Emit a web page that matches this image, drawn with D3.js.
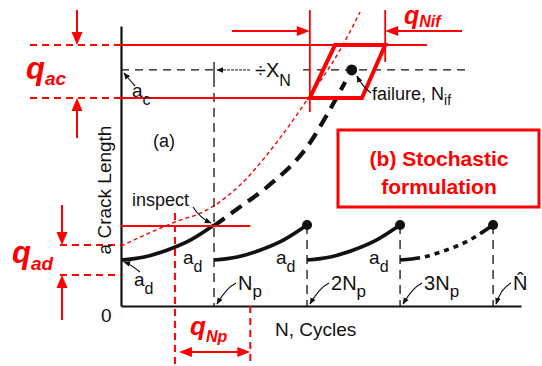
<!DOCTYPE html>
<html><head><meta charset="utf-8">
<script src="https://cdn.jsdelivr.net/npm/d3@7"></script>
<style>body{margin:0;background:#fff}svg{display:block}text{font-family:"Liberation Sans",Arial,sans-serif}</style>
</head><body><svg id="c" width="542" height="366"></svg>
<script>
// ---------------- data ----------------
const segmentStarts = [0, 1, 2, 3];                 // inspection intervals (units of Np)
const growthOffsets = [0, 0.25, 0.5, 0.75, 1.0];    // cycles within one interval
const growthValues  = [1.64, 1.75, 2.0, 2.36, 2.89];// crack length a
const tickValues = [1, 2, 3, 4];
const tickMain = ["N", "2N", "3N", "N\u0302"];
const tickSub  = ["p", "p", "p", ""];
const stochN = [1.0, 1.28, 1.57, 2.03, 2.225, 2.41];
const stochA = [2.86, 3.54, 4.25, 5.82, 6.89, 8.0];
const boundN = [0, 0.58, 0.925, 1.28, 1.677, 2.0, 2.354, 2.57];
const boundA = [2.14, 3.0, 3.43, 4.32, 5.86, 7.36, 9.14, 10.5];
const aD = 1.64, aC = 8.43, aInspect = 2.86, aPeak = 2.89;
const qAcBand = [7.43, 9.32];
const qAdBand = [1.11, 2.18];
const qNpBand = [0.58, 1.39];
const qNifBand = [2.03, 2.84];
const failureN = 2.48;
const parallelogram = [[2.03, 7.43], [2.30, 9.32], [2.84, 9.32], [2.59, 7.43]];
const topRedEnd = 3.29, acLineEnd = 3.75;

// ---------------- setup ----------------
const svg = d3.select("#c");
const x = d3.scaleLinear().domain([0, 4.3]).range([121, 521]);
const y = d3.scaleLinear().domain([0, 10]).range([306, 26]);
const RED = "#ff0000", BLK = "#111";
const line = d3.line().x(d => x(d[0])).y(d => y(d[1])).curve(d3.curveMonotoneX);

const defs = svg.append("defs");
defs.append("marker").attr("id", "ah").attr("viewBox", "0 0 10 10")
  .attr("refX", 9).attr("refY", 5).attr("markerWidth", 7).attr("markerHeight", 7)
  .attr("markerUnits", "userSpaceOnUse").attr("orient", "auto")
  .append("path").attr("d", "M0,1L10,5L0,9Z").attr("fill", BLK);

function head(tx, ty, ang, len = 13, w = 11) {
  const c = Math.cos(ang), s = Math.sin(ang);
  const bx = tx - c * len, by = ty - s * len;
  const px = -s * w / 2, py = c * w / 2;
  svg.append("path").attr("d", `M${tx},${ty}L${bx + px},${by + py}L${bx - px},${by - py}Z`).attr("fill", RED);
}
function seg(x1, y1, x2, y2, col, w, dash) {
  const l = svg.append("line").attr("x1", x1).attr("y1", y1).attr("x2", x2).attr("y2", y2)
    .attr("stroke", col).attr("stroke-width", w);
  if (dash) l.attr("stroke-dasharray", dash);
  return l;
}
function curvedArrow(x1, y1, cx, cy, x2, y2) {
  svg.append("path").attr("d", `M${x1},${y1}Q${cx},${cy} ${x2},${y2}`)
    .attr("fill", "none").attr("stroke", BLK).attr("stroke-width", 1.2).attr("marker-end", "url(#ah)");
}

// ---------------- axes ----------------
svg.append("g").attr("transform", `translate(0,${y(0)})`)
  .call(d3.axisBottom(x).tickValues([]).tickSizeOuter(0))
  .call(g => g.select(".domain").attr("stroke", BLK).attr("stroke-width", 2));
svg.append("g").attr("transform", `translate(${x(0)},0)`)
  .call(d3.axisLeft(y).tickValues([]).tickSizeOuter(0))
  .call(g => g.select(".domain").attr("stroke", BLK).attr("stroke-width", 2.2));

// ---------------- red deterministic bound (thin dashed) ----------------
svg.append("path").attr("d", line(d3.zip(boundN, boundA))).attr("fill", "none")
  .attr("stroke", RED).attr("stroke-width", 1.4).attr("stroke-dasharray", "4,3");

// ---------------- black dashed reference lines ----------------
seg(x(0), y(aC), x(1), y(aC), BLK, 1.3, "8,6");
seg(x(2.0) - 4, y(aC), x(acLineEnd), y(aC), BLK, 1.3, "8,6");
seg(x(1), y(aC) - 8, x(1), y(aC) + 8, BLK, 1.3);
seg(x(1), y(aC) + 8, x(1), y(0), BLK, 1.3, "9,6");
seg(x(1) + 36, y(aC), x(1) + 3, y(aC), BLK, 1).attr("stroke-dasharray", "3,1").attr("marker-end", "url(#ah)");
tickValues.slice(1).forEach(t => seg(x(t), y(aPeak), x(t), y(0), BLK, 1.3, "9,6"));

// ---------------- crack growth segments ----------------
segmentStarts.forEach((s, i) => {
  const pts = growthOffsets.map((o, j) => [s + o, growthValues[j]]);
  const p = svg.append("path").attr("d", line(pts)).attr("fill", "none")
    .attr("stroke", BLK).attr("stroke-width", 3.6);
  if (i === 3) {
    const L = p.node().getTotalLength();
    const arr = [0.2 * L];
    let pos = 0.2 * L;
    while (pos < 0.74 * L) { arr.push(5, 5); pos += 10; }
    arr.push(5, L);
    p.attr("stroke-dasharray", arr.join(","));
  }
});
// stochastic continuation (thick dashed)
svg.append("path").attr("d", line(d3.zip(stochN, stochA))).attr("fill", "none")
  .attr("stroke", BLK).attr("stroke-width", 4.2).attr("stroke-dasharray", "13,8");

// end dots
tickValues.slice(1).forEach(t => svg.append("circle").attr("cx", x(t)).attr("cy", y(aPeak)).attr("r", 5).attr("fill", BLK));
svg.append("circle").attr("cx", x(failureN)).attr("cy", y(aC)).attr("r", 5.5).attr("fill", BLK);

// ---------------- red scatter bands ----------------
// q_ac
seg(x(0), y(qAcBand[1]), x(topRedEnd), y(qAcBand[1]), RED, 2);
seg(x(0), y(qAcBand[0]), x(qNifBand[0]), y(qAcBand[0]), RED, 2);
seg(30, y(qAcBand[1]), x(0), y(qAcBand[1]), RED, 2, "7,5");
seg(30, y(qAcBand[0]), x(0), y(qAcBand[0]), RED, 2, "7,5");
seg(77, 10, 77, y(qAcBand[1]) - 6, RED, 2);
head(77, y(qAcBand[1]), Math.PI / 2);
seg(77, 138, 77, y(qAcBand[0]) + 6, RED, 2);
head(77, y(qAcBand[0]), -Math.PI / 2);

// q_Nif
seg(x(qNifBand[0]), 10, x(qNifBand[0]), 112, RED, 1.8);
seg(x(qNifBand[1]), 10, x(qNifBand[1]), 62, RED, 1.8);
seg(232, 31, x(qNifBand[0]) - 6, 31, RED, 1.8);
head(x(qNifBand[0]), 31, 0, 13, 10);
seg(462, 31, x(qNifBand[1]) + 6, 31, RED, 1.8);
head(x(qNifBand[1]), 31, Math.PI, 13, 10);
svg.append("path").attr("d", d3.line().x(d => x(d[0])).y(d => y(d[1]))(parallelogram) + "Z")
  .attr("fill", "none").attr("stroke", RED).attr("stroke-width", 4).attr("stroke-linejoin", "miter");

// inspect line
seg(x(0), y(aInspect), x(qNpBand[1]), y(aInspect), RED, 2);

// q_ad
seg(60, y(qAdBand[1]), x(0), y(qAdBand[1]), RED, 2, "7,5");
seg(60, y(qAdBand[0]), x(0), y(qAdBand[0]), RED, 2, "7,5");
seg(62, 205, 62, y(qAdBand[1]) - 6, RED, 2);
head(62, y(qAdBand[1]), Math.PI / 2);
seg(62, 320, 62, y(qAdBand[0]) + 6, RED, 2);
head(62, y(qAdBand[0]), -Math.PI / 2);

// q_Np
seg(x(qNpBand[0]), 213, x(qNpBand[0]), 366, RED, 2, "7,5");
seg(x(qNpBand[1]), y(0), x(qNpBand[1]), 366, RED, 2, "7,5");
seg(x(qNpBand[0]) + 10, 352, x(qNpBand[1]) - 8, 352, RED, 2);
head(x(qNpBand[0]) + 4, 352, Math.PI, 13, 10);
head(x(qNpBand[1]), 352, 0, 13, 10);

// red labels
function qLabel(tx, ty, main, sub, fs, sfs, dy) {
  const t = svg.append("text").attr("x", tx).attr("y", ty).attr("fill", RED)
    .attr("font-weight", "bold").attr("font-style", "italic").attr("font-size", fs).text(main);
  t.append("tspan").attr("font-size", sfs).attr("dy", dy).text(sub);
}
qLabel(26, 79, "q", "ac", 31, 19, 6);
qLabel(12, 263, "q", "ad", 31, 19, 7);
qLabel(404, 24, "q", "Nif", 25, 16, 3);
qLabel(190, 335, "q", "Np", 26, 16, 7);

// stochastic box
svg.append("rect").attr("x", 338).attr("y", 130).attr("width", 201).attr("height", 77)
  .attr("fill", "#fff").attr("stroke", RED).attr("stroke-width", 3);
svg.append("text").attr("x", 439).attr("y", 166).attr("text-anchor", "middle").attr("fill", RED)
  .attr("font-weight", "bold").attr("font-size", 21).text("(b) Stochastic");
svg.append("text").attr("x", 439).attr("y", 194).attr("text-anchor", "middle").attr("fill", RED)
  .attr("font-weight", "bold").attr("font-size", 21).text("formulation");

// ---------------- black labels ----------------
function sLabel(tx, ty, main, sub, fs, sfs, dy) {
  const t = svg.append("text").attr("x", tx).attr("y", ty).attr("fill", BLK).attr("font-size", fs).text(main);
  if (sub) t.append("tspan").attr("font-size", sfs).attr("dy", dy).text(sub);
  return t;
}
svg.append("text").attr("transform", `translate(111,190) rotate(-90)`).attr("text-anchor", "middle")
  .attr("fill", BLK).attr("font-size", 19).text("a Crack Length");
sLabel(101, 322, "0", null, 19);
sLabel(275, 336, "N, Cycles", null, 19);
sLabel(153, 147, "(a)", null, 18);
sLabel(132, 206, "inspect", null, 18);
curvedArrow(193, 207, 200, 218, 211, 223);
sLabel(132, 97, "a", "c", 19, 16, 8);
curvedArrow(135, 86, 128, 78, 124, 73);
sLabel(134, 286, "a", "d", 19, 16, 8);
curvedArrow(140, 272, 130, 264, 124, 262);
[1, 2, 3].forEach(t => sLabel(x(t) - 31, 264, "a", "d", 19, 16, 8));
svg.append("text").attr("x", 255).attr("y", 77).attr("fill", BLK).attr("font-size", 20)
  .text("\u00F7X").append("tspan").attr("font-size", 16).attr("dy", 9).text("N");
sLabel(372, 100, "failure, N", "if", 18, 14, 5);
curvedArrow(371, 93, 362, 86, 357, 76);

// tick labels with pointers
tickValues.forEach((t, i) => {
  const tx = x(t) + (i === 3 ? 20 : 24);
  sLabel(tx, 290, tickMain[i], tickSub[i], 20, 17, 7);
  curvedArrow(tx - 2, 283, tx - 12, 288, x(t) + 3, 304);
});
</script></body></html>
